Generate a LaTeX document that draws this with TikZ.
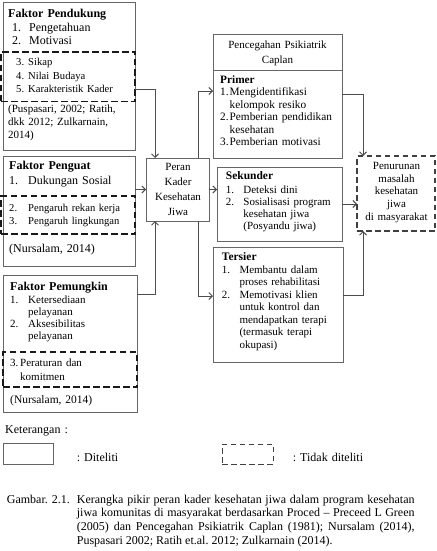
\documentclass[tikz,border=0pt]{standalone}
\usepackage{fontspec}
\setmainfont{Liberation Serif}
\usetikzlibrary{arrows.meta}

\newcommand{\nitem}[3][17pt]{\makebox[#1][l]{#2}#3}
\newcommand{\ncont}[2][17pt]{\hspace*{#1}#2}
\frenchspacing

\begin{document}
\begin{tikzpicture}[x=1pt,y=-1pt,->,>={Straight Barb[length=3.5pt,width=7pt]}]
    \tikzstyle{box}=[draw=black!60,line width=1pt,inner sep=0pt,outer sep=0pt,anchor=north west]
    \tikzstyle{dbox}=[box,draw=black!90,line width=1.7pt,dash pattern=on 6.5pt off 3.5pt]
    \tikzstyle{lbox}=[box,draw=black!75,line width=1pt,dash pattern=on 5.5pt off 3.5pt]
    \tikzstyle{txt}=[inner sep=0pt,anchor=base west,align=left,text width=140pt,font=\fontsize{12}{13.6}\selectfont]
    \tikzstyle{ctxt}=[txt,anchor=base,align=center,text width=80pt]
    \tikzstyle{link}=[draw=black!70,line width=1pt]
    \useasboundingbox (0,0) rectangle (436,551);

    % Left column: the three factors
    \node[box,minimum width=132pt,minimum height=147pt] (pendukung) at (3,3) {};
    \node[dbox,minimum width=134pt,minimum height=49.5pt] (pendukung-d) at (1,52) {};
    \node[box,minimum width=132pt,minimum height=110pt] (penguat) at (3,156) {};
    \node[dbox,minimum width=134pt,minimum height=38pt] (penguat-d) at (1,196) {};
    \node[box,minimum width=134pt,minimum height=137pt] (pemungkin) at (3,275) {};
    \node[dbox,minimum width=134pt,minimum height=35pt] (pemungkin-d) at (3,352) {};

    \node[txt] (PD-1) at (8,17.7) {\textbf{Faktor Pendukung}\\
        \ncont[4pt]{\nitem{1.}{Pengetahuan}}\\
        \ncont[4pt]{\nitem{2.}{Motivasi}}};
    \node[txt,font=\fontsize{10.6}{13.5}\selectfont] (PD-2) at (16,66) {\nitem[12pt]{3.}{Sikap}\\
        \nitem[12pt]{4.}{Nilai Budaya}\\
        \nitem[12pt]{5.}{Karakteristik Kader}};
    \node[txt,font=\fontsize{11}{13}\selectfont] (PD-3) at (8,112) {(Puspasari, 2002; Ratih,\\dkk 2012; Zulkarnain,\\2014)};

    \node[txt,font=\fontsize{12}{15}\selectfont] (PG-1) at (9,169.3) {\textbf{Faktor Penguat}\\
        \nitem[19pt]{1.}{Dukungan Sosial}};
    \node[txt,font=\fontsize{10.6}{13}\selectfont] (PG-2) at (9,211) {\nitem[19pt]{2.}{Pengaruh rekan kerja}\\
        \nitem[19pt]{3.}{Pengaruh lingkungan}};
    \node[txt] (PG-3) at (9,252.7) {(Nursalam, 2014)};

    \node[txt,font=\fontsize{11}{12.3}\selectfont] (PM-1) at (10,290.7) {\textbf{\fontsize{12}{12.3}\selectfont Faktor Pemungkin}\\
        \nitem[18pt]{1.}{Ketersediaan}\\
        \ncont[18pt]{pelayanan}\\
        \nitem[18pt]{2.}{Aksesibilitas}\\
        \ncont[18pt]{pelayanan}};
    \node[txt,font=\fontsize{11}{13.3}\selectfont] (PM-2) at (10,366.7) {\nitem[10pt]{3.}{Peraturan dan}\\
        \ncont[10pt]{komitmen}};
    \node[txt,font=\fontsize{11.5}{13.6}\selectfont] (PM-3) at (10,403) {(Nursalam, 2014)};

    % Middle: the role of the cadre
    \node[box,minimum width=63pt,minimum height=63pt] (peran) at (146,158) {};
    \node[ctxt,font=\fontsize{11}{14.8}\selectfont] (peran-t) at (178,170.7) {Peran\\Kader\\Kesehatan\\Jiwa};

    % Right: Caplan prevention levels
    \node[box,minimum width=129pt,minimum height=35pt] (caplan) at (213,35) {};
    \node[ctxt,font=\fontsize{11}{15}\selectfont,text width=128pt] (caplan-t) at (277.5,48.3) {Pencegahan Psikiatrik\\Caplan};
    \node[box,minimum width=129pt,minimum height=88pt] (primer) at (213,70) {};
    \node[txt,font=\fontsize{11.3}{12.5}\selectfont] (primer-t) at (220,83.3) {\textbf{Primer}\\
        \nitem[9.5pt]{1.}{Mengidentifikasi}\\
        \ncont[9.5pt]{kelompok resiko}\\
        \nitem[9.5pt]{2.}{Pemberian pendidikan}\\
        \ncont[9.5pt]{kesehatan}\\
        \nitem[9.5pt]{3.}{Pemberian motivasi}};
    \node[box,minimum width=125pt,minimum height=74pt] (sekunder) at (217,167) {};
    \node[txt,font=\fontsize{11}{11.8}\selectfont] (sekunder-t) at (225.7,179) {\textbf{\fontsize{11.5}{11.8}\selectfont Sekunder}\\[3pt]
        \nitem[17.5pt]{1.}{Deteksi dini}\\
        \nitem[17.5pt]{2.}{Sosialisasi program}\\
        \ncont[17.5pt]{kesehatan jiwa}\\
        \ncont[17.5pt]{(Posyandu jiwa)}};
    \node[box,minimum width=130pt,minimum height=115pt] (tersier) at (213,247) {};
    \node[txt,font=\fontsize{11}{12.5}\selectfont] (tersier-t) at (221.7,260.7) {\textbf{\fontsize{11.5}{12.5}\selectfont Tersier}\\
        \nitem[17.6pt]{1.}{Membantu dalam}\\
        \ncont[17.6pt]{proses rehabilitasi}\\
        \nitem[17.6pt]{2.}{Memotivasi klien}\\
        \ncont[17.6pt]{untuk kontrol dan}\\
        \ncont[17.6pt]{mendapatkan terapi}\\
        \ncont[17.6pt]{(termasuk terapi}\\
        \ncont[17.6pt]{okupasi)}};

    % Outcome
    \node[lbox,line width=1.2pt,minimum width=78pt,minimum height=75pt] (penurunan) at (357,156) {};
    \node[ctxt,font=\fontsize{11}{12.7}\selectfont] (penurunan-t) at (396.5,169.3) {Penurunan\\masalah\\kesehatan\\jiwa\\di masyarakat};

    % Connect the factors with the cadre
    \draw[link] ([yshift=-12.5pt]pendukung.east) -| ([xshift=9pt]peran.north west);
    \draw[link] (peran.west -| penguat.east) -- (peran.west);
    \draw[link] ([yshift=49.5pt]pemungkin.east) -| ([xshift=9pt]peran.south west);

    % Connect the cadre with the prevention levels
    \draw[link] ([xshift=-11pt]peran.north east) |- ([yshift=23pt]primer.west);
    \draw[link] (peran.east) -- (peran.east -| sekunder.west);
    \draw[link] ([xshift=-11pt]peran.south east) |- ([yshift=8.5pt]tersier.west);

    % Connect the prevention levels with the outcome
    \draw[link] ([yshift=20pt]primer.east) -| ([xshift=6pt]penurunan.north west);
    \draw[link] (sekunder.east) -- (sekunder.east -| penurunan.west);
    \draw[link] ([yshift=9.5pt]tersier.east) -| ([xshift=6pt]penurunan.south west);

    % Legend
    \node[txt] (ket) at (5,433.3) {Keterangan :};
    \node[box,minimum width=50pt,minimum height=21pt] (leg-a) at (3,443) {};
    \node[txt] (leg-a-t) at (76.7,461) {: Diteliti};
    \node[lbox,minimum width=51pt,minimum height=20pt] (leg-b) at (222,444) {};
    \node[txt] (leg-b-t) at (292.7,461) {: Tidak diteliti};

    % Caption
    \node[txt] (cap-n) at (6.7,503.3) {Gambar. 2.1.};
    \node[txt,align=justify,text width=337.7pt,font=\fontsize{12}{13.6}\selectfont] (cap-t) at (76.7,503.3) {Kerangka pikir peran kader kesehatan jiwa dalam program kesehatan\linebreak
        jiwa komunitas di masyarakat berdasarkan Proced -- Preceed L Green\linebreak
        (2005) dan Pencegahan Psikiatrik Caplan (1981); Nursalam (2014),\linebreak
        Puspasari 2002; Ratih et.al. 2012; Zulkarnain (2014).};
\end{tikzpicture}
\end{document}
